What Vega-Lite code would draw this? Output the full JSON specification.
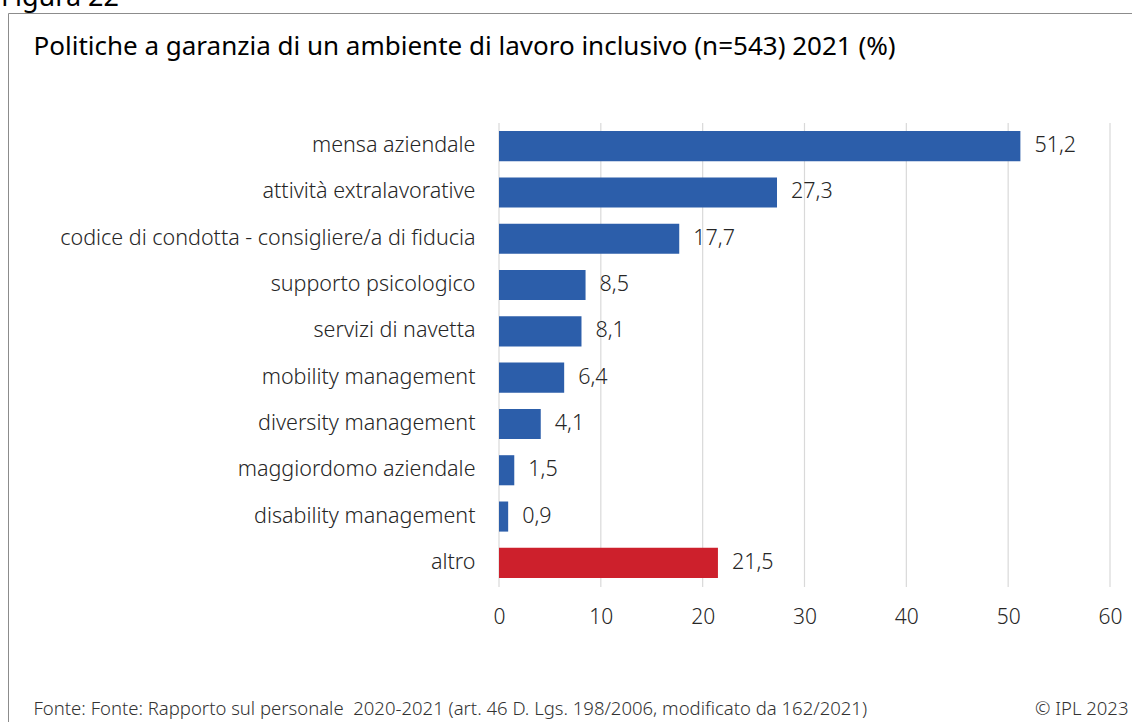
{
  "$schema": "https://vega.github.io/schema/vega-lite/v6.json",
  "width": 1140,
  "height": 720,
  "autosize": {"type": "none"},
  "padding": {"left": 8, "top": 13, "right": 0, "bottom": 0},
  "background": "white",
  "config": {
    "locale": {"number": {"decimal": ",", "thousands": ".", "grouping": [3], "currency": ["", " €"]}},
    "view": {"stroke": "#8c8c8c", "strokeWidth": 1},
    "font": "Noto Sans"
  },
  "title": {
    "text": "Figura 22",
    "anchor": "start",
    "frame": "group",
    "orient": "top",
    "fontSize": 27,
    "fontWeight": "normal",
    "color": "#000000",
    "dx": -7,
    "offset": -20,
    "baseline": "alphabetic"
  },
  "data": {
    "values": [
      {"voce": "mensa aziendale", "valore": 51.2, "gruppo": "politica"},
      {"voce": "attività extralavorative", "valore": 27.3, "gruppo": "politica"},
      {"voce": "codice di condotta - consigliere/a di fiducia", "valore": 17.7, "gruppo": "politica"},
      {"voce": "supporto psicologico", "valore": 8.5, "gruppo": "politica"},
      {"voce": "servizi di navetta", "valore": 8.1, "gruppo": "politica"},
      {"voce": "mobility management", "valore": 6.4, "gruppo": "politica"},
      {"voce": "diversity management", "valore": 4.1, "gruppo": "politica"},
      {"voce": "maggiordomo aziendale", "valore": 1.5, "gruppo": "politica"},
      {"voce": "disability management", "valore": 0.9, "gruppo": "politica"},
      {"voce": "altro", "valore": 21.5, "gruppo": "altro"}
    ]
  },
  "layer": [
    {
      "data": {"values": [{"v": 0}, {"v": 10}, {"v": 20}, {"v": 30}, {"v": 40}, {"v": 50}, {"v": 60}]},
      "mark": {"type": "rule", "color": "#d9d9d9", "strokeWidth": 1.2},
      "encoding": {
        "x": {"field": "v", "type": "quantitative"},
        "y": {
          "datum": 0,
          "type": "quantitative",
          "scale": {"domain": [0, 1], "range": [574, 110], "nice": false, "zero": false},
          "axis": {
            "orient": "right",
            "grid": false,
            "labels": false,
            "ticks": false,
            "domain": false,
            "title": "© IPL 2023",
            "titleAngle": 0,
            "titleAlign": "right",
            "titleBaseline": "alphabetic",
            "titleX": -20,
            "titleY": 701,
            "titleFontSize": 18.5,
            "titleFontWeight": 300,
            "titleColor": "#333333",
            "titleFont": "Noto Sans"
          }
        },
        "y2": {"datum": 1}
      }
    },
    {
      "encoding": {
        "y": {
          "field": "voce",
          "type": "nominal",
          "sort": null,
          "scale": {"range": [110, 573], "paddingInner": 0.35, "paddingOuter": 0.175},
          "axis": {
            "orient": "left",
            "offset": -491,
            "grid": false,
            "ticks": false,
            "domain": false,
            "labelPadding": 24,
            "labelFontSize": 21.5,
            "labelFontWeight": 300,
            "labelColor": "#262626",
            "labelLimit": 600,
            "labelFont": "Noto Sans",
            "title": "Politiche a garanzia di un ambiente di lavoro inclusivo (n=543) 2021 (%)",
            "titleAngle": 0,
            "titleAlign": "left",
            "titleBaseline": "alphabetic",
            "titleX": -466,
            "titleY": 41,
            "titleFontSize": 26,
            "titleFontWeight": "normal",
            "titleColor": "#000000",
            "titleFont": "Noto Sans"
          }
        },
        "x": {
          "field": "valore",
          "type": "quantitative",
          "scale": {"domain": [0, 60], "range": [491, 1102], "nice": false, "zero": true},
          "axis": {
            "orient": "bottom",
            "offset": -146,
            "grid": false,
            "ticks": false,
            "domain": false,
            "values": [0, 10, 20, 30, 40, 50, 60],
            "format": "d",
            "labelFlush": false,
            "labelPadding": 19,
            "labelBaseline": "top",
            "labelFontSize": 21,
            "labelFontWeight": 300,
            "labelColor": "#262626",
            "labelFont": "Noto Sans",
            "title": "Fonte: Fonte: Rapporto sul personale\u00a0 2020-2021 (art. 46 D. Lgs. 198/2006, modificato da 162/2021)",
            "titleAlign": "left",
            "titleAnchor": "start",
            "titleBaseline": "alphabetic",
            "titleX": 25,
            "titleY": 127,
            "titleFontSize": 18.5,
            "titleFontWeight": 300,
            "titleColor": "#333333",
            "titleFont": "Noto Sans"
          }
        }
      },
      "layer": [
        {
          "mark": {"type": "bar"},
          "encoding": {
            "color": {
              "field": "gruppo",
              "type": "nominal",
              "scale": {"domain": ["politica", "altro"], "range": ["#2C5EAA", "#CD202C"]},
              "legend": null
            }
          }
        },
        {
          "mark": {"type": "text", "align": "left", "baseline": "middle", "dx": 14, "fontSize": 21.5, "fontWeight": 300, "color": "#262626", "font": "Noto Sans"},
          "encoding": {
            "text": {"field": "valore", "type": "quantitative", "format": ".1f"}
          }
        }
      ]
    }
  ],
  "resolve": {"scale": {"y": "independent"}}
}
